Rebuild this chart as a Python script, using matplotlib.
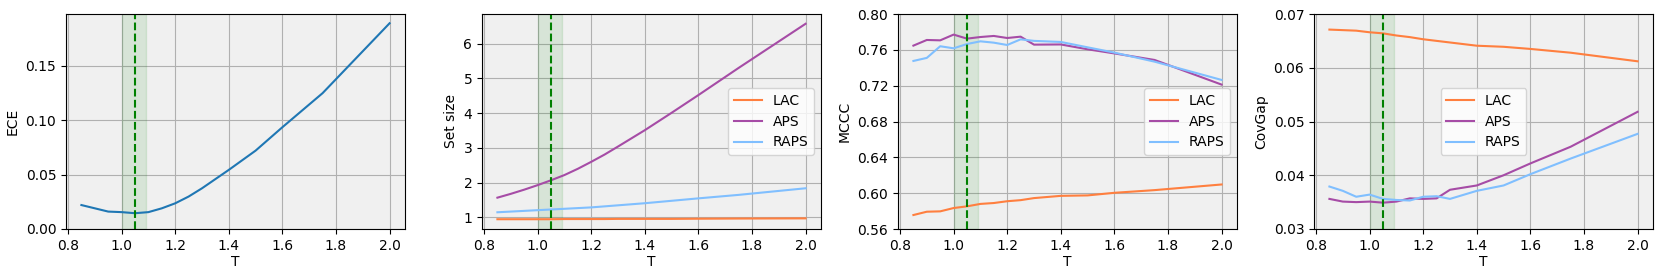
import numpy as np
import matplotlib.pyplot as plt

T = [0.85, 0.9, 0.95, 1.0, 1.05, 1.1, 1.15, 1.2, 1.25, 1.3, 1.4, 1.5, 1.6, 1.75, 2.0]

ece = [0.022, 0.019, 0.016, 0.0155, 0.0145, 0.0155, 0.019, 0.0236, 0.0298, 0.0374,
       0.0543, 0.072, 0.0935, 0.1248, 0.189]

size_lac = [0.95, 0.95, 0.95, 0.95, 0.95, 0.955, 0.955, 0.955, 0.955, 0.96, 0.96, 0.96, 0.965, 0.97, 0.975]
size_aps = [1.57, 1.68, 1.80, 1.93, 2.07, 2.22, 2.40, 2.60, 2.81, 3.04, 3.51, 4.01, 4.52, 5.30, 6.57]
size_raps = [1.15, 1.17, 1.19, 1.21, 1.23, 1.25, 1.27, 1.29, 1.32, 1.35, 1.41, 1.48, 1.55, 1.65, 1.84]

mccc_lac = [0.5756, 0.5793, 0.5797, 0.5834, 0.5853, 0.588, 0.589, 0.591, 0.5922, 0.5945,
            0.597, 0.5975, 0.6004, 0.6034, 0.6097]
mccc_aps = [0.7647, 0.771, 0.7706, 0.777, 0.7725, 0.7743, 0.7755, 0.7732, 0.7747, 0.7658,
            0.766, 0.7606, 0.756, 0.7487, 0.7212]
mccc_raps = [0.7476, 0.751, 0.764, 0.7617, 0.7665, 0.7695, 0.768, 0.7654, 0.7717, 0.770,
             0.7688, 0.7628, 0.7569, 0.7468, 0.7264]

gap_lac = [0.0671, 0.067, 0.0669, 0.0666, 0.0664, 0.066, 0.0657, 0.0653, 0.065, 0.0647,
           0.0641, 0.0639, 0.0635, 0.0628, 0.0612]
gap_aps = [0.0356, 0.0351, 0.035, 0.0351, 0.0349, 0.0351, 0.0357, 0.0356, 0.0357, 0.0373,
           0.0381, 0.04, 0.0422, 0.0453, 0.0518]
gap_raps = [0.0379, 0.0371, 0.036, 0.0364, 0.0356, 0.0354, 0.0353, 0.036, 0.0361, 0.0356,
            0.0371, 0.0381, 0.0402, 0.0431, 0.0477]

c_lac = '#ff7f3f'
c_aps = '#a64ca6'
c_raps = '#80bfff'

fig = plt.figure(figsize=(16.61, 2.78), dpi=100)
W, H = 1661, 278
lefts = [66, 482, 898, 1314]
width = 339
bottom, top = 229, 14
axes = [fig.add_axes([l / W, 1 - bottom / H, width / W, (bottom - top) / H]) for l in lefts]

def style(ax, ylabel):
    ax.set_facecolor('#f0f0f0')
    ax.grid(True, color='#b0b0b0', linewidth=0.8)
    ax.set_axisbelow(True)
    ax.axvspan(1.0, 1.09, color='green', alpha=0.1)
    ax.axvline(1.05, color='green', linestyle='--', linewidth=1.5)
    ax.set_xlabel('T', fontsize=10, labelpad=2)
    ax.set_ylabel(ylabel, fontsize=10)
    ax.tick_params(labelsize=10)
    ax.set_xticks([0.8, 1.0, 1.2, 1.4, 1.6, 1.8, 2.0])

ax = axes[0]
ax.plot(T, ece, color='#1f77b4', linewidth=1.5)
style(ax, 'ECE')
ax.set_ylim(0, 0.1975)
ax.set_yticks([0.0, 0.05, 0.10, 0.15])

series = [
    (axes[1], 'Set size', size_lac, size_aps, size_raps, 'center right'),
    (axes[2], 'MCCC', mccc_lac, mccc_aps, mccc_raps, 'center right'),
    (axes[3], 'CovGap', gap_lac, gap_aps, gap_raps, 'center'),
]
for ax, lab, a, b, c, loc in series:
    ax.plot(T, a, color=c_lac, linewidth=1.5, label='LAC')
    ax.plot(T, b, color=c_aps, linewidth=1.5, label='APS')
    ax.plot(T, c, color=c_raps, linewidth=1.5, label='RAPS')
    style(ax, lab)
    ax.legend(loc=loc, fontsize=10)

axes[1].set_yticks([1, 2, 3, 4, 5, 6])
axes[2].set_ylim(0.56, 0.80)
axes[2].set_yticks([0.56, 0.60, 0.64, 0.68, 0.72, 0.76, 0.80])
axes[3].set_ylim(0.03, 0.07)
axes[3].set_yticks([0.03, 0.04, 0.05, 0.06, 0.07])

fig.savefig('out.png', dpi=100)
